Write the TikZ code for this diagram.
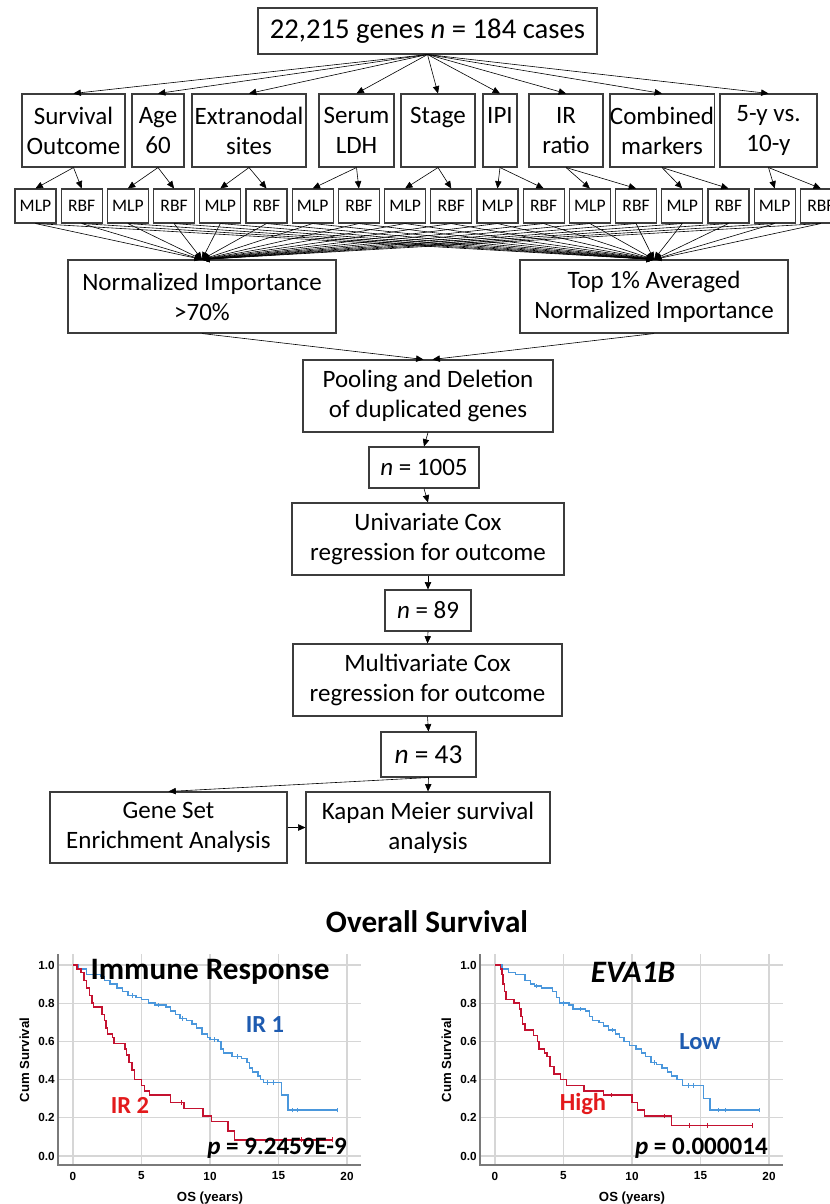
\documentclass[tikz,border=0pt]{standalone}
\usepackage{fontspec}
\setmainfont{Carlito}
\newfontfamily\arialfont{Liberation Sans}
\usetikzlibrary{arrows.meta,calc}

\definecolor{boxline}{HTML}{3C3C3C}
\definecolor{kmblue}{HTML}{4A97DC}
\definecolor{kmred}{HTML}{C41230}
\definecolor{lblblue}{HTML}{1E5BB0}
\definecolor{lblred}{HTML}{E31A1C}
\definecolor{gridgray}{HTML}{D6D6D6}
\definecolor{axisgray}{HTML}{7A7A7A}

\tikzset{
  box/.style={draw=boxline, line width=0.8pt, align=center, inner sep=0pt,
              font=\fontsize{18.75}{22.5}\selectfont},
  netbox/.style={draw=boxline, line width=0.8pt, inner sep=0pt,
              minimum width=30.75pt, minimum height=25.5pt,
              font=\fontsize{13.2}{16}\selectfont},
  link/.style={draw=black, line width=0.45pt, -{Triangle[length=5.5pt,width=4.8pt]}},
  ticklbl/.style={font=\arialfont\bfseries\fontsize{8.8}{10}\selectfont, inner sep=0pt},
  axtitle/.style={font=\arialfont\bfseries\fontsize{9.9}{11}\selectfont, inner sep=0pt},
  bigtitle/.style={font=\bfseries\fontsize{23.4}{28}\selectfont, inner sep=0pt},
  grplbl/.style={font=\bfseries\fontsize{18.4}{22}\selectfont, inner sep=0pt},
  pval/.style={font=\bfseries\fontsize{18.8}{23}\selectfont, inner sep=0pt},
  kmcurve/.style={line width=1.1pt, line join=miter},
}

\begin{document}
\begin{tikzpicture}[x=0.75pt,y=-0.75pt]
\clip (0,0) rectangle (830,1204);
\fill[white] (0,0) rectangle (830,1204);

% ---------- flow chart ----------
\node[box, minimum width=339*0.75pt, minimum height=46*0.75pt,
      font=\fontsize{21.5}{25}\selectfont] (top) at (427.5,31)
  {22,215 genes \textit{n} = 184 cases};

% clinical end points
\foreach \nm/\cx/\w/\txt in {so/73.5/103/{Survival\\Outcome}, age/158/52/{Age\\60},
    ext/249/114/{Extranodal\\sites}, ldh/356.5/75/{Serum\\LDH}, stg/438/74/{Stage\\~},
    ipi/500/34/{IPI\\~}, irr/566/74/{IR\\ratio}, cmb/662/102/{Combined\\markers},
    fy/768.5/97/{5-y vs.\\10-y}}
  \node[box, minimum width=\w*0.75pt, minimum height=73*0.75pt] (\nm) at (\cx,130.5) {\txt};

% neural network models
\foreach \i in {0,...,17}{
  \pgfmathsetmacro\cx{35.5+46.2*\i}
  \ifodd\i\relax \def\netname{RBF}\else \def\netname{MLP}\fi
  \node[netbox] (m\i) at (\cx,206) {\netname};
}

\foreach \nm/\a in {so/0, age/2, ext/4, ldh/6, stg/8, ipi/10, irr/12, cmb/14, fy/16}{
  \pgfmathtruncatemacro\b{\a+1}
  \draw[link] (top.south) -- (\nm.north);
  \draw[link] (\nm.south) -- (m\a.north);
  \draw[link] (\nm.south) -- (m\b.north);
}

\node[box, minimum width=268*0.75pt, minimum height=73*0.75pt] (ni) at (202,296.5)
  {Normalized Importance\\>70\%};
\node[box, minimum width=268*0.75pt, minimum height=73*0.75pt] (t1) at (654,296.5)
  {Top 1\% Averaged\\Normalized Importance};

\foreach \i in {0,...,17}{
  \draw[link] (m\i.south) -- (ni.north);
  \draw[link] (m\i.south) -- (t1.north);
}

\node[box, minimum width=250*0.75pt, minimum height=72*0.75pt] (pool) at (428,396)
  {Pooling and Deletion\\of duplicated genes};
\coordinate (poolL) at ([xshift=-3.4pt]pool.north);
\coordinate (poolR) at ([xshift=3.4pt]pool.north);
\draw[link] (ni.south) -- (poolL);
\draw[link] (t1.south) -- (poolR);

\node[box, minimum width=110*0.75pt, minimum height=41*0.75pt] (n1) at (424,467.5)
  {\textit{n} = 1005};
\node[box, minimum width=272*0.75pt, minimum height=72*0.75pt] (uni) at (428,539)
  {Univariate Cox\\regression for outcome};
\node[box, minimum width=86*0.75pt, minimum height=41*0.75pt] (n2) at (428,610.5)
  {\textit{n} = 89};
\node[box, minimum width=269*0.75pt, minimum height=72*0.75pt] (mul) at (427.5,680)
  {Multivariate Cox\\regression for outcome};
\node[box, minimum width=95*0.75pt, minimum height=45*0.75pt,
      font=\fontsize{20.5}{24}\selectfont] (n3) at (428.5,754.5) {\textit{n} = 43};
\node[box, minimum width=237*0.75pt, minimum height=71*0.75pt] (gsea) at (168.5,827.5)
  {Gene Set\\Enrichment Analysis};
\node[box, minimum width=244*0.75pt, minimum height=71*0.75pt] (km) at (428,827.5)
  {Kapan Meier survival\\analysis};

\draw[link] (pool.south) -- (n1.north);
\draw[link] (n1.south) -- (uni.north);
\draw[link] (uni.south) -- (n2.north);
\draw[link] (n2.south) -- (mul.north);
\draw[link] (mul.south) -- (n3.north);
\draw[link] (n3.south) -- (km.north);
\draw[link] (n3.south) -- (gsea.north);
\draw[link] (gsea.east) -- (km.west);

% ---------- survival plots ----------
\node[bigtitle] (ostitle) at (427,922) {Overall Survival};

\foreach \ox/\pn in {0/L, 422/R}{
  \foreach \k in {0,...,4}
    \draw[gridgray, line width=1pt] ({\ox+73+68.5*\k},954) -- ({\ox+73+68.5*\k},1165);
  \foreach \k in {0,...,5}
    \draw[gridgray, line width=1pt] ({\ox+58},{1156-38.2*\k}) -- ({\ox+361},{1156-38.2*\k});
  \draw[axisgray, line width=0.8pt] ({\ox+58},954) -- ({\ox+58},1165) -- ({\ox+361},1165);
  \foreach \k/\v in {0/0.0, 1/0.2, 2/0.4, 3/0.6, 4/0.8, 5/1.0}
    \node[ticklbl, anchor=east] (yl\pn\k) at ({\ox+55},{1156-38.2*\k}) {\v};
  \foreach \k/\v in {0/0, 1/5, 2/10, 3/15, 4/20}
    \node[ticklbl] (xl\pn\k) at ({\ox+73+68.5*\k},1176) {\v};
  \node[axtitle, rotate=90] (cs\pn) at ({\ox+24.5},1060) {Cum Survival};
  \node[axtitle] (os\pn) at ({\ox+210},1198) {OS (years)};
}

% immune response groups
\begin{scope}[shift={(73,1156)}, x=10.275pt, y=143.25pt]
  \draw[kmblue, kmcurve] (0,1) -| (0.4,0.98) -| (1.0,0.95) -| (2.0,0.94) -| (2.3,0.92)
    -| (2.7,0.90) -| (3.2,0.88) -| (3.6,0.86) -| (4.0,0.84) -| (4.6,0.83) -| (5.0,0.82)
    -| (5.5,0.80) -| (6.0,0.79) -| (6.8,0.78) -| (7.1,0.76) -| (7.5,0.74) -| (7.8,0.72)
    -| (8.3,0.71) -| (8.7,0.69) -| (9.0,0.67) -| (9.4,0.64) -| (9.8,0.62) -| (10.0,0.61)
    -| (10.6,0.60) -| (10.8,0.56) -| (11.0,0.54) -| (11.6,0.52) -| (12.3,0.51)
    -| (12.7,0.49) -| (12.9,0.46) -| (13.1,0.44) -| (13.5,0.42) -| (13.7,0.40)
    -| (13.9,0.385) -| (15.2,0.32) -| (15.7,0.24) -- (19.3,0.24);
  \foreach \t/\s in {1.5/0.95, 4.3/0.84, 6.2/0.79, 8.0/0.72, 10.3/0.61, 12.0/0.52,
                     14.2/0.385, 14.6/0.385, 16.0/0.24, 16.4/0.24, 19.3/0.24}
    \draw[kmblue, line width=0.6pt] (\t,\s-0.012) -- (\t,\s+0.012);
  \draw[kmred, kmcurve] (0,1) -| (0.3,0.98) -| (0.6,0.96) -| (0.8,0.92) -| (1.0,0.88)
    -| (1.2,0.84) -| (1.4,0.80) -| (1.5,0.78) -| (2.1,0.74) -| (2.3,0.71) -| (2.4,0.67)
    -| (2.5,0.64) -| (2.9,0.62) -| (3.0,0.59) -| (3.8,0.56) -| (3.9,0.53) -| (4.1,0.49)
    -| (4.3,0.45) -| (4.5,0.40) -| (5.0,0.37) -| (5.2,0.34) -| (5.6,0.32) -| (7.1,0.28)
    -| (8.1,0.25) -| (9.5,0.21) -| (10.1,0.18) -| (11.3,0.13) -| (11.8,0.085)
    -- (18.9,0.085);
  \foreach \t/\s in {7.9/0.28, 16.7/0.085, 18.9/0.085}
    \draw[kmred, line width=0.6pt] (\t,\s-0.012) -- (\t,\s+0.012);
\end{scope}

% EVA1B expression groups
\begin{scope}[shift={(495,1156)}, x=10.275pt, y=143.25pt]
  \draw[kmblue, kmcurve] (0,1) -| (0.5,0.98) -| (1.0,0.96) -| (1.5,0.95) -| (2.2,0.92)
    -| (2.6,0.90) -| (2.9,0.89) -| (3.4,0.88) -| (4.2,0.86) -| (4.5,0.83) -| (4.7,0.80)
    -| (5.4,0.79) -| (5.7,0.77) -| (6.6,0.76) -| (6.9,0.73) -| (7.1,0.71) -| (7.6,0.70)
    -| (7.9,0.68) -| (8.3,0.66) -| (8.8,0.64) -| (9.1,0.62) -| (9.4,0.60) -| (9.8,0.58)
    -| (10.3,0.56) -| (10.7,0.54) -| (11.0,0.52) -| (11.4,0.49) -| (11.8,0.48)
    -| (12.2,0.46) -| (12.6,0.44) -| (12.9,0.42) -| (13.3,0.40) -| (13.7,0.37)
    -| (15.2,0.30) -| (15.7,0.24) -- (19.3,0.24);
  \foreach \t/\s in {3.0/0.89, 5.0/0.80, 6.2/0.77, 8.6/0.66, 11.6/0.49, 14.1/0.37,
                     14.5/0.37, 16.3/0.24, 16.8/0.24, 19.3/0.24}
    \draw[kmblue, line width=0.6pt] (\t,\s-0.012) -- (\t,\s+0.012);
  \draw[kmred, kmcurve] (0,1) -| (0.4,0.98) -| (0.5,0.95) -| (0.6,0.90) -| (0.7,0.86)
    -| (0.8,0.82) -| (1.4,0.80) -| (1.8,0.77) -| (1.9,0.73) -| (2.0,0.69) -| (2.2,0.66)
    -| (2.8,0.63) -| (3.1,0.60) -| (3.2,0.56) -| (3.6,0.54) -| (3.8,0.52) -| (4.0,0.47)
    -| (4.3,0.43) -| (4.8,0.40) -| (5.2,0.37) -| (6.5,0.34) -| (7.9,0.32) -| (10.0,0.28)
    -| (10.4,0.24) -| (10.9,0.21) -| (12.9,0.16) -- (18.8,0.16);
  \foreach \t/\s in {8.5/0.32, 12.4/0.21, 14.2/0.16, 15.5/0.16, 18.8/0.16}
    \draw[kmred, line width=0.6pt] (\t,\s-0.012) -- (\t,\s+0.012);
\end{scope}

% plot annotations
\node[bigtitle] (imr) at (210,972) {Immune Response};
\node[grplbl, text=lblblue] (ir1) at (265,1025) {IR 1};
\node[grplbl, text=lblred] (ir2) at (130,1105) {IR 2};
\node[pval, anchor=east] (pL) at (347,1148) {\textit{p} = 9.2459E-9};

\node[bigtitle, font=\bfseries\itshape\fontsize{23.4}{28}\selectfont] (eva) at (633,972) {EVA1B};
\node[grplbl, text=lblblue] (low) at (700,1042) {Low};
\node[grplbl, text=lblred] (high) at (583,1104) {High};
\node[pval, anchor=east] (pR) at (768,1148) {\textit{p} = 0.000014};
\end{tikzpicture}
\end{document}
